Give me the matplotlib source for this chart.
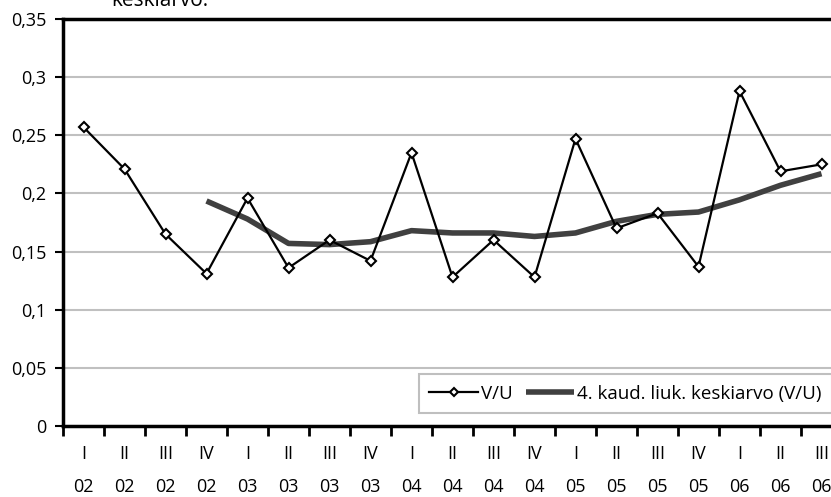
import matplotlib
matplotlib.use("Agg")
import matplotlib.pyplot as plt
from matplotlib.ticker import FixedLocator, FuncFormatter, NullFormatter

quarters = ["I", "II", "III", "IV", "I", "II", "III", "IV", "I", "II", "III", "IV",
            "I", "II", "III", "IV", "I", "II", "III"]
years = ["02", "02", "02", "02", "03", "03", "03", "03", "04", "04", "04", "04",
         "05", "05", "05", "05", "06", "06", "06"]
vu = [0.257, 0.221, 0.165, 0.131, 0.196, 0.136, 0.160, 0.142, 0.235, 0.128,
      0.160, 0.128, 0.247, 0.170, 0.183, 0.137, 0.288, 0.219, 0.225]
# 4-quarter moving average, starting at IV 02
ma = [None, None, None, 0.1935, 0.178, 0.157, 0.156, 0.1585, 0.168, 0.166,
      0.166, 0.163, 0.166, 0.176, 0.182, 0.184, 0.1945, 0.207, 0.217]

plt.rcParams['font.family'] = ['Open Sans', 'DejaVu Sans']

fig = plt.figure(figsize=(8.31, 4.97), dpi=100)
W, H = 831, 497
left, right_px, top, bottom = 63, 63 + 19 * 41, 19, 426
ax = fig.add_axes([left / W, 1 - bottom / H, (right_px - left) / W, (bottom - top) / H])

x = list(range(len(vu)))
ma_x = [i for i, v in enumerate(ma) if v is not None]
ma_y = [v for v in ma if v is not None]

ax.plot(x, vu, color="black", lw=1.6, marker="D", markersize=5.5,
        markerfacecolor="white", markeredgecolor="black", markeredgewidth=1.5,
        label="V/U", zorder=4)
ax.plot(ma_x, ma_y, color="#404040", lw=4, solid_capstyle="butt",
        label="4. kaud. liuk. keskiarvo (V/U)", zorder=3)

ax.set_xlim(-0.5, len(vu) - 0.5)
ax.set_ylim(0, 0.35)
yt = [0, 0.05, 0.1, 0.15, 0.2, 0.25, 0.3, 0.35]
ax.set_yticks(yt)
ax.yaxis.set_major_formatter(FuncFormatter(lambda v, p: ("%.2f" % v).rstrip("0").rstrip(".").replace(".", ",")))
for g in yt[1:-1]:
    ax.axhline(g, color="#c0c0c0", lw=1.5, zorder=1)

ax.xaxis.set_major_locator(FixedLocator([i - 0.5 for i in range(len(vu) + 1)]))
ax.xaxis.set_major_formatter(NullFormatter())
ax.xaxis.set_minor_locator(FixedLocator(x))
ax.set_xticklabels([f"{q}\n{y}" for q, y in zip(quarters, years)], minor=True)
ax.tick_params(axis="x", which="minor", length=0, pad=14, labelsize=13)
ax.tick_params(axis="x", which="major", length=7, width=2, direction="out")
ax.tick_params(axis="y", length=6, width=1.5, labelsize=13, pad=6)
for lbl in ax.get_xticklabels(minor=True):
    lbl.set_linespacing(2.05)

ax.spines["top"].set_linewidth(2.5)
ax.spines["left"].set_linewidth(2.5)
ax.spines["bottom"].set_linewidth(2.5)
ax.spines["right"].set_visible(False)

leg = ax.legend(loc="lower right", bbox_to_anchor=(832 / W, 1 - 413 / H),
                bbox_transform=fig.transFigure, ncol=2, frameon=True, fancybox=False,
                fontsize=13.5, handlelength=2.6, handletextpad=0.15, columnspacing=0.7,
                borderpad=0.55, borderaxespad=0)
leg.get_frame().set_edgecolor("#b0b0b0")
leg.get_frame().set_linewidth(1.5)
for h in leg.legend_handles:
    if h.get_label() == "V/U":
        h.set_markersize(4.5)

fig.text(160 / W, 1 - 1 / H, "keskiarvo.", fontsize=15, ha="center", va="center")

fig.savefig("out.png", dpi=100)
